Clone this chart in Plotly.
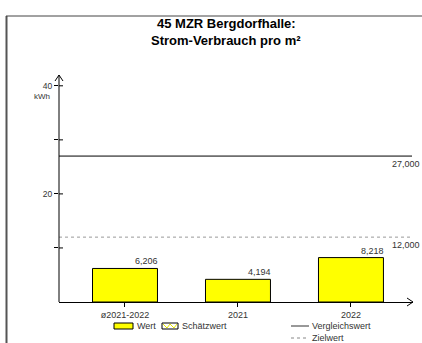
import plotly.graph_objects as go

categories = ["ø2021-2022", "2021", "2022"]
values = [6.206, 4.194, 8.218]
value_labels = ["6,206", "4,194", "8,218"]
vergleichswert = 27.0
zielwert = 12.0
ref_labels = ["27,000", "12,000"]
ytick_vals = [10, 20, 30, 40]
ytick_text = ["", "20", "", "40"]
title_lines = ["45 MZR Bergdorfhalle:", "Strom-Verbrauch pro m²"]

W, H = 422, 343
def px(x):
    return x / W
def py(y):
    return (H - y) / H

FONT = "Liberation Sans, Arial, sans-serif"
TXT = "#333333"
bar_w = 0.575

fig = go.Figure()
fig.add_trace(go.Bar(
    x=list(range(len(categories))), y=values, width=bar_w,
    marker=dict(color="#ffff00", line=dict(color="black", width=1)),
    hoverinfo="skip", showlegend=False,
))

shapes = []
annotations = []

# reference lines
shapes.append(dict(type="line", xref="paper", yref="y", x0=px(59), x1=px(412),
                   y0=vergleichswert, y1=vergleichswert, line=dict(color="black", width=1)))
shapes.append(dict(type="line", xref="paper", yref="y", x0=px(59), x1=px(412),
                   y0=zielwert, y1=zielwert, line=dict(color="#999999", width=1, dash="dot")))
for v, t in zip([vergleichswert, zielwert], ref_labels):
    annotations.append(dict(x=1, xref="paper", y=v, yref="y", text=t, showarrow=False,
                            xanchor="right", yanchor="top", yshift=-1,
                            font=dict(family=FONT, size=9, color=TXT)))

# value labels
for i, (v, t) in enumerate(zip(values, value_labels)):
    annotations.append(dict(x=i + bar_w / 2, y=v, xref="x", yref="y", text=t, showarrow=False,
                            xanchor="right", yanchor="bottom", xshift=3, yshift=0,
                            font=dict(family=FONT, size=9, color=TXT)))

# inner half of y ticks
for v in ytick_vals:
    shapes.append(dict(type="line", xref="paper", yref="y", x0=px(59), x1=px(63), y0=v, y1=v,
                       line=dict(color="black", width=1)))

# axis arrows
shapes.append(dict(type="path", xref="paper", yref="paper",
                   path=f"M {px(55)} {py(81)} L {px(59)} {py(75)} L {px(63)} {py(81)}",
                   line=dict(color="black", width=1)))
shapes.append(dict(type="line", xref="paper", yref="paper", x0=px(59), x1=px(59), y0=py(302), y1=py(75),
                   line=dict(color="black", width=1)))
shapes.append(dict(type="path", xref="paper", yref="paper",
                   path=f"M {px(407)} {py(298)} L {px(413)} {py(302)} L {px(407)} {py(306)}",
                   line=dict(color="black", width=1)))

# frame
shapes.append(dict(type="line", xref="paper", yref="paper", x0=px(6.5), x1=px(6.5), y0=py(16), y1=0,
                   line=dict(color="#555555", width=2)))
shapes.append(dict(type="line", xref="paper", yref="paper", x0=px(6), x1=1, y0=py(16), y1=py(16),
                   line=dict(color="#444444", width=1)))

# unit
annotations.append(dict(x=px(52), y=py(96), xref="paper", yref="paper", text="kWh", showarrow=False,
                        xanchor="right", yanchor="middle", font=dict(family=FONT, size=8, color=TXT)))

# legend
LF = 9
shapes.append(dict(type="rect", xref="paper", yref="paper", x0=px(114), x1=px(133), y0=py(323), y1=py(329),
                   fillcolor="#ffff00", line=dict(color="black", width=1)))
annotations.append(dict(x=px(135), y=py(326), xref="paper", yref="paper", text="Wert", showarrow=False,
                        xanchor="left", yanchor="middle", font=dict(family=FONT, size=LF, color=TXT)))
shapes.append(dict(type="rect", xref="paper", yref="paper", x0=px(162), x1=px(178), y0=py(323), y1=py(329),
                   fillcolor="white", line=dict(color="black", width=1)))
shapes.append(dict(type="path", xref="paper", yref="paper",
                   path=f"M {px(163)} {py(324)} L {px(167)} {py(328)} L {px(170)} {py(324)} L {px(174)} {py(328)} L {px(177)} {py(324)}",
                   line=dict(color="#e6e600", width=1)))
annotations.append(dict(x=px(180), y=py(326), xref="paper", yref="paper", text="Schätzwert", showarrow=False,
                        xanchor="left", yanchor="middle", font=dict(family=FONT, size=LF, color=TXT)))
shapes.append(dict(type="line", xref="paper", yref="paper", x0=px(291), x1=px(309), y0=py(326), y1=py(326),
                   line=dict(color="#333333", width=1)))
annotations.append(dict(x=px(310), y=py(326), xref="paper", yref="paper", text="Vergleichswert", showarrow=False,
                        xanchor="left", yanchor="middle", font=dict(family=FONT, size=LF, color=TXT)))
shapes.append(dict(type="line", xref="paper", yref="paper", x0=px(291), x1=px(309), y0=py(338), y1=py(338),
                   line=dict(color="#888888", width=1, dash="dot")))
annotations.append(dict(x=px(310), y=py(338), xref="paper", yref="paper", text="Zielwert", showarrow=False,
                        xanchor="left", yanchor="middle", font=dict(family=FONT, size=LF, color=TXT)))

# title
for t, yy in zip(title_lines, [23.5, 40.5]):
    annotations.append(dict(x=px(226), y=py(yy), xref="paper", yref="paper", borderpad=0,
                            text=f"<b>{t}</b>", showarrow=False, xanchor="center", yanchor="middle",
                            font=dict(family=FONT, size=13, color="black")))

fig.update_layout(
    width=W, height=H, margin=dict(l=0, r=0, t=0, b=0),
    paper_bgcolor="white", plot_bgcolor="white",
    xaxis=dict(domain=[px(59), px(413)], range=[-0.584, 2.549],
               tickvals=list(range(len(categories))), ticktext=categories,
               showline=True, linecolor="black", linewidth=1,
               ticks="outside", ticklen=4, tickcolor="black", showgrid=False, zeroline=False,
               tickfont=dict(family=FONT, size=9, color=TXT), fixedrange=True),
    yaxis=dict(domain=[py(302), py(75)], range=[0, 42],
               tickvals=ytick_vals, ticktext=ytick_text,
               showline=False, ticks="outside", ticklen=4, tickcolor="black",
               showgrid=False, zeroline=False,
               tickfont=dict(family=FONT, size=8.5, color=TXT), fixedrange=True),
    shapes=shapes, annotations=annotations, showlegend=False,
)

fig.write_html("out.html", config={"displayModeBar": False},
               post_script="document.body.style.margin='0';document.body.style.overflow='hidden';")
